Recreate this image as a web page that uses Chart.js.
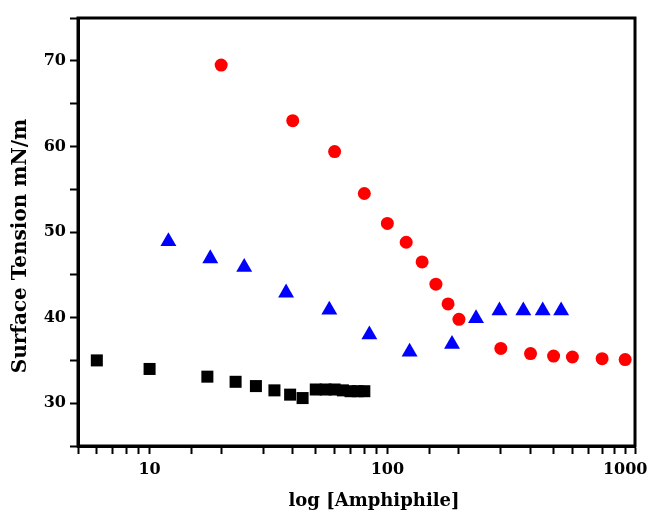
<!DOCTYPE html>
<html>
<head>
<meta charset="utf-8">
<script src="https://cdn.jsdelivr.net/npm/chart.js@4/dist/chart.umd.min.js"></script>
<style>
  html, body { margin: 0; padding: 0; background: #fff; }
  #wrap { width: 651px; height: 514px; }
</style>
</head>
<body>
<div id="wrap"><canvas id="chart"></canvas></div>
<script>
// series (x in concentration units, y in mN/m)
let blackX = [6, 10, 17.5, 23, 28, 33.5, 39, 44, 50, 55, 60, 65, 70, 75, 80];
let blackY = [35.0, 34.0, 33.1, 32.5, 32.0, 31.5, 31.0, 30.6, 31.6, 31.6, 31.6, 31.5, 31.4, 31.4, 31.4];

let redX = [20, 40, 60, 80, 100, 120, 140, 160, 180, 200, 300, 400, 500, 600, 800, 1000];
let redY = [69.5, 63.0, 59.4, 54.5, 51.0, 48.8, 46.5, 43.9, 41.6, 39.8, 36.4, 35.8, 35.5, 35.4, 35.2, 35.1];

let blueX = [12, 18, 25, 37.5, 57, 84, 124, 187, 236, 296, 373, 450, 538];
let blueY = [48.9, 46.9, 45.9, 42.9, 40.9, 38.0, 36.0, 36.9, 39.9, 40.8, 40.8, 40.8, 40.8];

let xLabels = [10, 100, 1000];
let yLabels = [30, 40, 50, 60, 70];

let xTitle = 'log [Amphiphile]';
let yTitle = 'Surface Tension mN/m';

function toPoints(xs, ys) {
    return xs.map((x, i) => ({ x: x, y: ys[i] }));
}

// closes the frame on top and right, and writes the axis titles
const frame = {
    id: 'frame',
    afterDraw(chart) {
        let a = chart.chartArea;
        let ctx = chart.ctx;
        ctx.save();
        ctx.strokeStyle = '#000';
        ctx.lineWidth = 3;
        ctx.strokeRect(a.left, a.top, a.right - a.left, a.bottom - a.top);

        ctx.fillStyle = '#000';
        ctx.textAlign = 'center';
        ctx.textBaseline = 'middle';
        ctx.font = 'bold 18px "DejaVu Serif"';
        ctx.fillText(xTitle, 374, 501);

        ctx.translate(21, 246);
        ctx.rotate(-Math.PI / 2);
        ctx.font = 'bold 20px "DejaVu Serif"';
        ctx.fillText(yTitle, 0, 0);
        ctx.restore();
    }
};

const tickFont = { family: 'DejaVu Serif', weight: 'bold', size: 16 };

new Chart(document.getElementById('chart'), {
    type: 'scatter',
    data: {
        datasets: [{
            label: 'black',
            data: toPoints(blackX, blackY),
            pointStyle: 'rect',
            pointRadius: 8.5,
            backgroundColor: '#000',
            borderColor: '#000',
            borderWidth: 0
        }, {
            label: 'red',
            data: toPoints(redX, redY),
            pointStyle: 'circle',
            pointRadius: 6.5,
            backgroundColor: '#ff0000',
            borderColor: '#ff0000',
            borderWidth: 0
        }, {
            label: 'blue',
            data: toPoints(blueX, blueY),
            pointStyle: 'triangle',
            pointRadius: 9.2,
            backgroundColor: '#0000ff',
            borderColor: '#0000ff',
            borderWidth: 0
        }]
    },
    options: {
        responsive: true,
        maintainAspectRatio: false,
        animation: false,
        layout: { padding: { top: 18, right: 16, left: 0, bottom: 0 } },
        plugins: {
            legend: { display: false },
            tooltip: { enabled: false }
        },
        scales: {
            x: {
                type: 'logarithmic',
                min: 5,
                max: 1100,
                border: { display: true, color: '#000', width: 3 },
                grid: {
                    drawOnChartArea: false,
                    color: '#000',
                    tickLength: 8,
                    tickWidth: 2
                },
                ticks: {
                    color: '#000',
                    font: tickFont,
                    padding: 6,
                    autoSkip: false,
                    maxRotation: 0,
                    callback: (v) => xLabels.includes(v) ? String(v) : ''
                },
                afterFit: (s) => { s.height = 68; }
            },
            y: {
                min: 25,
                max: 75,
                border: { display: true, color: '#000', width: 3 },
                grid: {
                    drawOnChartArea: false,
                    color: '#000',
                    tickLength: 8,
                    tickWidth: 2
                },
                ticks: {
                    stepSize: 5,
                    color: '#000',
                    font: tickFont,
                    padding: 4,
                    callback: (v) => yLabels.includes(v) ? String(v) : ''
                },
                afterFit: (s) => { s.width = 78; }
            }
        }
    },
    plugins: [frame]
});
</script>
</body>
</html>
